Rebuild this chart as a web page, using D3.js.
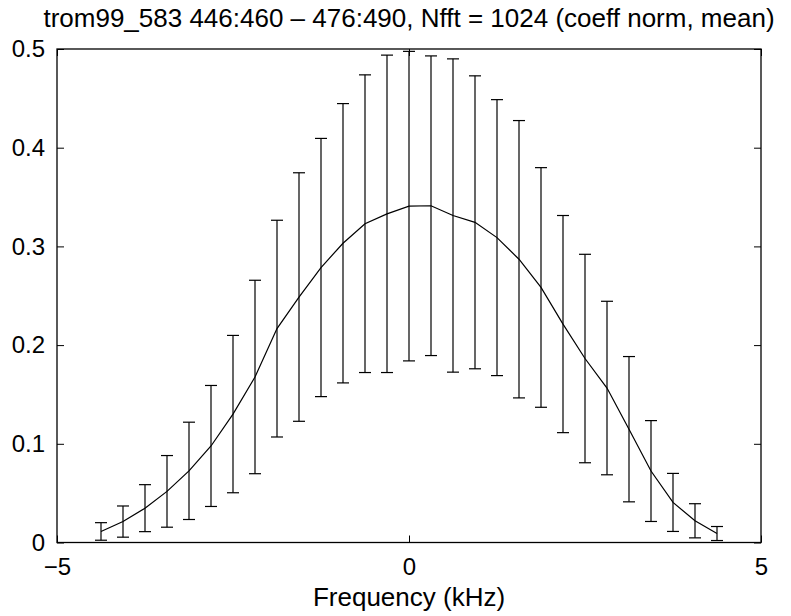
<!DOCTYPE html>
<html>
<head>
<meta charset="utf-8">
<script src="https://cdn.jsdelivr.net/npm/d3@7"></script>
<style>
  html, body { margin: 0; padding: 0; background: #fff; }
  svg { display: block; font-family: "Liberation Sans", Arial, Helvetica, sans-serif; }
</style>
</head>
<body>
<svg id="chart" width="791" height="616"></svg>
<script>
// Frequency bins (kHz), spaced 0.3125 kHz apart from -4.375 to 4.375
const freqs = [-4.375, -4.0625, -3.75, -3.4375, -3.125, -2.8125, -2.5, -2.1875, -1.875,
  -1.5625, -1.25, -0.9375, -0.625, -0.3125, 0, 0.3125, 0.625, 0.9375, 1.25, 1.5625,
  1.875, 2.1875, 2.5, 2.8125, 3.125, 3.4375, 3.75, 4.0625, 4.375];

// Mean normalised coefficient per bin
const meanVals = [0.0112, 0.0212, 0.0348, 0.0518, 0.0726, 0.0978, 0.1301, 0.1677, 0.2167,
  0.2487, 0.2786, 0.3032, 0.3230, 0.3330, 0.3408, 0.3412, 0.3313, 0.3244, 0.3089, 0.2870,
  0.2584, 0.2213, 0.1864, 0.1565, 0.1148, 0.0724, 0.0406, 0.0220, 0.0091];

// Half-length of each error bar (standard deviation)
const errVals = [0.0089, 0.0158, 0.0238, 0.0363, 0.0493, 0.0613, 0.0797, 0.0980, 0.1098,
  0.1259, 0.1308, 0.1415, 0.1508, 0.1608, 0.1568, 0.1518, 0.1587, 0.1484, 0.1398, 0.1405,
  0.1214, 0.1100, 0.1056, 0.0879, 0.0736, 0.0511, 0.0294, 0.0173, 0.0071];

const xTicks = [-5, 0, 5];
const yTicks = [0, 0.1, 0.2, 0.3, 0.4, 0.5];
const titleText = "trom99_583 446:460 \u2013 476:490, Nfft = 1024 (coeff norm, mean)";
const xLabelText = "Frequency (kHz)";

const svg = d3.select("#chart");
const m = { left: 57, right: 761, top: 49, bottom: 542.5 };
const tickFont = 24, labelFont = 26;

const x = d3.scaleLinear().domain([-5, 5]).range([m.left, m.right]);
const y = d3.scaleLinear().domain([0, 0.5]).range([m.bottom, m.top]);

const fmtX = d => d < 0 ? "\u2212" + Math.abs(d) : String(d);
const fmtY = d => d === 0 ? "0" : d3.format(".1f")(d);
const tickLen = 7;

// Axes: ticks point into the plot box, MATLAB style
svg.append("g").attr("transform", `translate(0,${m.bottom})`)
  .call(d3.axisBottom(x).tickValues(xTicks).tickSizeInner(-tickLen).tickSizeOuter(0).tickPadding(15.5).tickFormat(fmtX));
svg.append("g").attr("transform", `translate(0,${m.top})`)
  .call(d3.axisTop(x).tickValues(xTicks).tickSizeInner(-tickLen).tickSizeOuter(0).tickFormat(""));
svg.append("g").attr("transform", `translate(${m.left},0)`)
  .call(d3.axisLeft(y).tickValues(yTicks).tickSizeInner(-tickLen).tickSizeOuter(0).tickPadding(12).tickFormat(fmtY));
svg.append("g").attr("transform", `translate(${m.right},0)`)
  .call(d3.axisRight(y).tickValues(yTicks).tickSizeInner(-tickLen).tickSizeOuter(0).tickFormat(""));

svg.selectAll(".domain").remove();
svg.selectAll(".tick line").attr("stroke", "#000").attr("stroke-width", 1);
svg.selectAll(".tick text").attr("font-size", tickFont).attr("fill", "#000")
  .attr("font-family", "'Liberation Sans', Arial, sans-serif");

// Plot frame
svg.append("rect")
  .attr("x", m.left).attr("y", m.top)
  .attr("width", m.right - m.left).attr("height", m.bottom - m.top)
  .attr("fill", "none").attr("stroke", "#000").attr("stroke-width", 1.3);

const data = freqs.map((f, i) => ({ f, m: meanVals[i], e: errVals[i] }));

// Error bars
const capHalf = 6;
const eb = svg.append("g").attr("stroke", "#000").attr("stroke-width", 1.2).attr("fill", "none");
data.forEach(d => {
  const cx = x(d.f), y1 = y(d.m + d.e), y0 = y(d.m - d.e);
  eb.append("line").attr("x1", cx).attr("x2", cx).attr("y1", y1).attr("y2", y0);
  eb.append("line").attr("x1", cx - capHalf).attr("x2", cx + capHalf).attr("y1", y1).attr("y2", y1);
  eb.append("line").attr("x1", cx - capHalf).attr("x2", cx + capHalf).attr("y1", y0).attr("y2", y0);
});

// Mean curve
svg.append("path")
  .datum(data)
  .attr("fill", "none").attr("stroke", "#000").attr("stroke-width", 1.2)
  .attr("d", d3.line().x(d => x(d.f)).y(d => y(d.m)));

// Title and axis label
svg.append("text")
  .attr("x", (m.left + m.right) / 2).attr("y", 27)
  .attr("text-anchor", "middle").attr("font-size", labelFont).attr("fill", "#000")
  .text(titleText);
svg.append("text")
  .attr("x", (m.left + m.right) / 2).attr("y", 606)
  .attr("text-anchor", "middle").attr("font-size", labelFont).attr("fill", "#000")
  .text(xLabelText);
</script>
</body>
</html>
